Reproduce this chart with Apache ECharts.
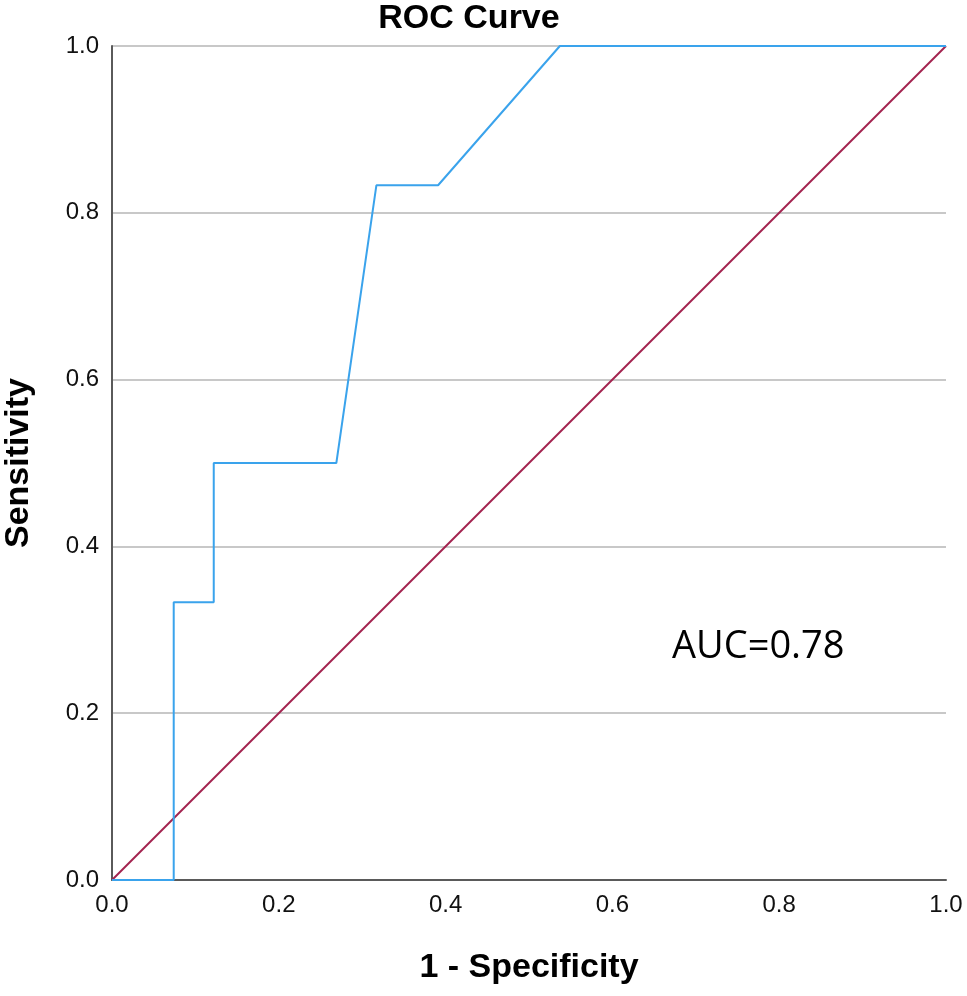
<!DOCTYPE html>
<html>
<head>
<meta charset="utf-8">
<title>ROC Curve</title>
<script src="https://cdn.jsdelivr.net/npm/echarts@6/dist/echarts.min.js"></script>
<style>
  html, body { margin: 0; padding: 0; background: #fff; }
  #chart { width: 967px; height: 996px; }
</style>
</head>
<body>
<div id="chart"></div>
<script>
// ROC curve points: 1 - specificity, sensitivity
const rocX = [0, 0.074, 0.074, 0.122, 0.122, 0.269, 0.317, 0.391, 0.537, 1.0]
const rocY = [0, 0, 0.333, 0.333, 0.5, 0.5, 0.833, 0.833, 1.0, 1.0]

// reference (chance) line
const refX = [0, 1]
const refY = [0, 1]

const tickLabels = ['0.0', '0.2', '0.4', '0.6', '0.8', '1.0']
const aucText = 'AUC=0.78'

const pairs = (xs, ys) => xs.map((x, i) => [x, ys[i]])

const chart = echarts.init(document.getElementById('chart'))

const axisLabelFmt = (v) => tickLabels[Math.round(v * 5)] || ''

chart.setOption({
  animation: false,
  backgroundColor: '#fff',
  title: {
    text: 'ROC Curve',
    left: 464,
    top: -3,
    textAlign: 'center',
    textStyle: { fontFamily: 'Liberation Sans', fontWeight: 'bold', fontSize: 34, color: '#000' }
  },
  // keep the plot box fixed, names may sit near the edge
  grid: { left: 112, right: 21, top: 46, bottom: 116, outerBoundsMode: 'none', containLabel: false },
  xAxis: {
    type: 'value',
    min: 0, max: 1, interval: 0.2,
    name: '1 - Specificity',
    nameLocation: 'middle',
    nameGap: 71,
    nameTextStyle: { fontFamily: 'Liberation Sans', fontWeight: 'bold', fontSize: 34, color: '#000' },
    axisLine: { show: true, lineStyle: { color: '#5a5a5a', width: 2 } },
    axisTick: { show: false },
    splitLine: { show: false },
    axisLabel: { formatter: axisLabelFmt, margin: 13, fontFamily: 'Liberation Sans', fontSize: 24, color: '#111' }
  },
  yAxis: {
    type: 'value',
    min: 0, max: 1, interval: 0.2,
    name: 'Sensitivity',
    nameLocation: 'middle',
    nameGap: 76,
    nameTextStyle: { fontFamily: 'Liberation Sans', fontWeight: 'bold', fontSize: 34, color: '#000' },
    axisLine: { show: true, lineStyle: { color: '#5a5a5a', width: 2 } },
    axisTick: { show: false },
    splitLine: { show: true, lineStyle: { color: '#c8c8c8', width: 2 } },
    axisLabel: { formatter: axisLabelFmt, margin: 13, fontFamily: 'Liberation Sans', fontSize: 24, color: '#111' }
  },
  series: [
    {
      name: 'Reference',
      type: 'line',
      data: pairs(refX, refY),
      showSymbol: false,
      lineStyle: { color: '#a3234f', width: 2 },
      z: 2
    },
    {
      name: 'ROC',
      type: 'line',
      data: pairs(rocX, rocY),
      showSymbol: false,
      lineStyle: { color: '#3aa3ec', width: 2 },
      z: 3
    }
  ],
  graphic: [
    {
      type: 'text',
      x: 672,
      y: 647,
      style: { text: aucText, fontFamily: 'Open Sans', fontSize: 38, fill: '#000', verticalAlign: 'middle' }
    }
  ]
})
</script>
</body>
</html>
